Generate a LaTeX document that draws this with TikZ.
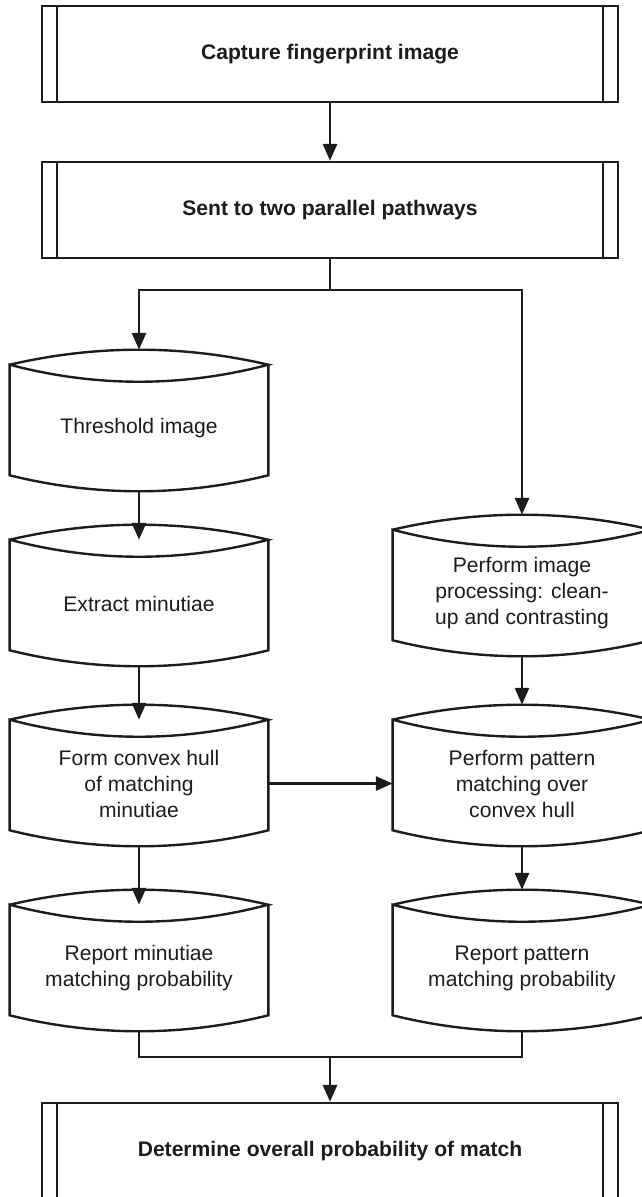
\documentclass[tikz,border=0pt]{standalone}
\usepackage{fontspec}
\setmainfont{Liberation Sans}
\usetikzlibrary{arrows.meta,calc}
\definecolor{ink}{RGB}{28,28,28}

% drum-shaped step: lens on top, curved base; the node itself is the body
\newcommand\drumoutline[1]{%
  \draw[outline]
    ($(#1.north west)+(0,-17)$) .. controls +(86,-20) and +(-86,-20) .. ($(#1.north east)+(0,-17)$)
    .. controls +(-86,22.7) and +(86,22.7) .. ($(#1.north west)+(0,-17)$)
    -- (#1.south west)
    .. controls +(86,21.3) and +(-86,21.3) .. (#1.south east)
    -- ($(#1.north east)+(0,-17)$);}

% predefined-process box: extra vertical bar inside each side
\newcommand\procbars[1]{%
  \draw[outline] ($(#1.north west)+(16.5,0)$) -- ($(#1.south west)+(16.5,0)$);
  \draw[outline] ($(#1.north east)+(-16.5,0)$) -- ($(#1.south east)+(-16.5,0)$);}

\begin{document}
\begin{tikzpicture}[x=0.025cm, y=-0.025cm,
  font=\fontsize{15}{18.5}\selectfont, text=ink,
  outline/.style={draw=ink, line width=1.7pt},
  procbox/.style={outline, rectangle, inner sep=0pt,
    minimum width=14.4cm, minimum height=2.4cm, font=\fontsize{15}{18.5}\selectfont\bfseries},
  drum/.style={rectangle, inner sep=0pt, align=center,
    minimum width=6.45cm, minimum height=2.325cm},
  plain/.style={draw=ink, line width=1.9pt},
  arr/.style={plain, -{Triangle[length=12pt,width=10pt]}}]

\useasboundingbox (0,0) rectangle (642,1197);
\clip (0,0) rectangle (642,1197);

% steps
\node[procbox] (cap) at (330,54) {Capture fingerprint image};
\node[procbox] (sent) at (330,210) {Sent to two parallel pathways};
\node[drum] (thr)  at (139,428.5) {Threshold image};
\node[drum] (ext)  at (139,603.5) {Extract minutiae};
\node[drum] (hull) at (139,783.5) {Form convex hull\\of matching\\minutiae};
\node[drum] (repm) at (139,968.5) {Report minutiae\\matching probability};
\node[drum] (proc) at (522,593.5) {Perform image\\processing: clean-\\up and contrasting};
\node[drum] (patt) at (522,783.5) {Perform pattern\\matching over\\convex hull};
\node[drum] (repp) at (522,968.5) {Report pattern\\matching probability};
\node[procbox] (final) at (330,1151) {Determine overall probability of match};

\foreach \n in {cap,sent,final} {\procbars{\n}}
\foreach \n in {thr,ext,hull,repm,proc,patt,repp} {\drumoutline{\n}}

% connectors
\coordinate (split) at (330,290);
\coordinate (join) at (330,1057);

\draw[arr] (cap) -- (sent);
\draw[plain] (sent.south) -- (split);
\draw[arr] (split) -| ($(thr.north)+(0,-32)$);
\draw[arr] (split) -| ($(proc.north)+(0,-32)$);
\draw[arr] ($(thr.south)+(0,16)$) -- ($(ext.north)+(0,-17)$);
\draw[arr] ($(ext.south)+(0,16)$) -- ($(hull.north)+(0,-17)$);
\draw[arr] ($(hull.south)+(0,16)$) -- ($(repm.north)+(0,-17)$);
\draw[arr] ($(proc.south)+(0,16)$) -- ($(patt.north)+(0,-32)$);
\draw[arr] ($(patt.south)+(0,16)$) -- ($(repp.north)+(0,-32)$);
\draw[arr] (hull.east) -- (patt.west);
\draw[plain] ($(repm.south)+(0,16)$) |- (join) -| ($(repp.south)+(0,16)$);
\draw[arr] (join) -- (final.north);
\end{tikzpicture}
\end{document}
